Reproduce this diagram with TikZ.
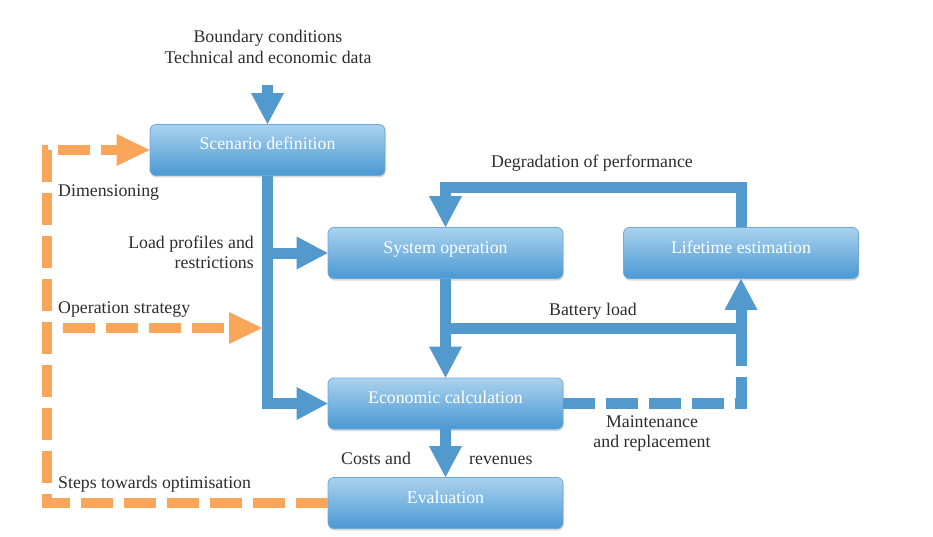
\documentclass[tikz,border=0pt]{standalone}
\usepackage{fontspec}
\setmainfont{Liberation Serif}
\usetikzlibrary{arrows.meta,shadows,calc}
\definecolor{lineblue}{RGB}{82,153,206}
\definecolor{boxtop}{RGB}{170,210,238}
\definecolor{boxbot}{RGB}{74,152,211}
\definecolor{boxedge}{RGB}{110,168,218}
\definecolor{dorange}{RGB}{250,166,90}
\definecolor{labtext}{RGB}{45,45,45}
\tikzset{
  box/.style={rectangle, rounded corners=6pt, minimum width=235pt, minimum height=51pt,
    text height=13pt, text depth=13pt,
    top color=boxtop, bottom color=boxbot, draw=boxedge, line width=0.8pt,
    text=white, font=\fontsize{17.8}{21}\selectfont,
    drop shadow={shadow xshift=0.6pt, shadow yshift=-2pt, opacity=0.3}},
  lab/.style={text=labtext, font=\fontsize{17.8}{21}\selectfont, inner sep=0pt},
  bline/.style={draw=lineblue, line width=11pt},
  bdash/.style={draw=lineblue, line width=11pt, dash pattern=on 32pt off 11pt},
  odash/.style={draw=dorange, line width=10pt, dash pattern=on 32pt off 11pt},
  btip/.style={-{Triangle[width=33pt,length=31pt,line width=0pt]}},
  otip/.style={-{Triangle[width=32pt,length=33pt,line width=0pt]}}
}
\begin{document}
\begin{tikzpicture}[x=1pt,y=-1pt]
\useasboundingbox (0,0) rectangle (933,537);
\fill[white] (0,0) rectangle (933,537);

% boxes
\node[box] (scen) at (267.5,150) {Scenario definition};
\node[box] (sys)  at (445.5,253) {System operation};
\node[box] (life) at (741,253) {Lifetime estimation};
\node[box] (econ) at (445.5,403.5) {Economic calculation};
\node[box] (eval) at (445.5,503) {Evaluation};

% coordinates
\coordinate (inp) at (267.5,85);
\coordinate (bstart) at (445.5,328);
\coordinate (dg) at (741,188);
\coordinate (mj) at (life.south |- econ.east);
\coordinate (mtop) at (741,333);
\coordinate (ob) at (47,503);
\coordinate (ot) at (47,150);
\coordinate (os) at (52,328);
\coordinate (trk) at (262,328);

% blue connectors
\draw[bline, btip] (inp) -- (scen.north);
\draw[bline, btip] (scen.south) |- (econ.west);
\draw[bline, btip] (scen.south |- sys.west) -- (sys.west);
\draw[bline, btip] (sys.south) -- (econ.north);
\draw[bline, btip] (bstart) -| (life.south);
\draw[bline, btip] (life.north) -- (dg) -| (sys.north);
\draw[bdash] (econ.east) -- (mj) -- (mtop);
\draw[bline, btip] (econ.south) -- (eval.north);

% orange connectors
\draw[odash, otip] (eval.west) -- (ob) -- (ot) -- (scen.west);
\draw[odash, dash phase=32pt, otip] (os) -- (trk);

% labels
\node[lab, anchor=base] (bc) at (268,43) {Boundary conditions};
\node[lab, anchor=base] (te) at (268,64) {Technical and economic data};
\node[lab, anchor=base west] (dim) at (58,197) {Dimensioning};
\node[lab, anchor=base east] (lp1) at (254,248) {Load profiles and};
\node[lab, anchor=base east] (lp2) at (254,268) {restrictions};
\node[lab, anchor=base west] (ost) at (58,313) {Operation strategy};
\node[lab, anchor=base] (deg) at (592,168) {Degradation of performance};
\node[lab, anchor=base west] (bl) at (549,315) {Battery load};
\node[lab, anchor=base] (mt1) at (652,427) {Maintenance};
\node[lab, anchor=base] (mt2) at (652,447) {and replacement};
\node[lab, anchor=base west] (ca) at (341,464) {Costs and};
\node[lab, anchor=base west] (rv) at (469,464) {revenues};
\node[lab, anchor=base west] (st) at (58,488) {Steps towards optimisation};
\end{tikzpicture}
\end{document}
